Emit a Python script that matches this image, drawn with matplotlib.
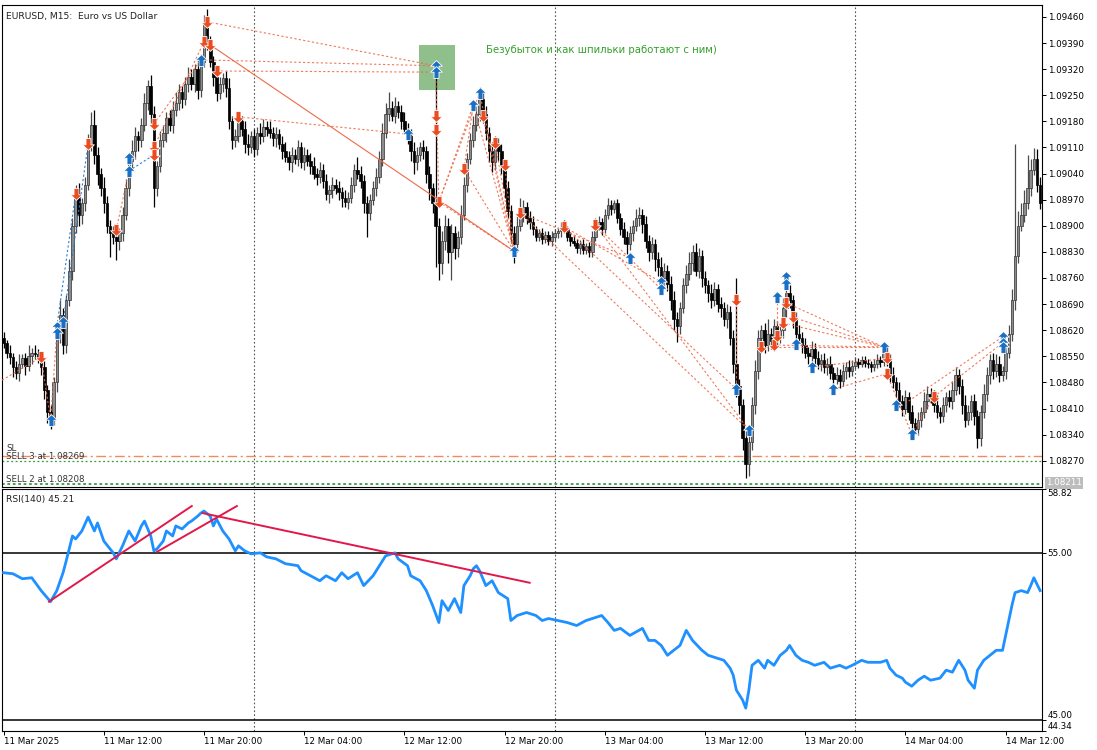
import numpy as np
import matplotlib
matplotlib.use("Agg")
import matplotlib.pyplot as plt
from matplotlib.path import Path
from matplotlib.patches import Rectangle
import matplotlib.transforms as mtransforms

# ---------------- data ----------------
# EURUSD M15 closes, in points above 1.08000 (1 point = 0.00001)
first_open_pts = 600
close_pts = [
    585, 560, 548, 520, 505, 530, 545, 525, 550, 560, 555, 548,
    520, 460, 400, 385, 480, 615, 660, 580, 700, 780, 900, 985,
    930, 960, 1010, 1120, 1170, 1090, 1040, 1000, 960, 900, 880,
    870, 860, 880, 930, 1000, 1075, 1100, 1140, 1130, 1170,
    1230, 1275, 1200, 1000, 1060, 1130, 1150, 1190, 1170, 1210,
    1230, 1260, 1240, 1280, 1300, 1280, 1320, 1265, 1340, 1440, 1390,
    1340, 1300, 1255, 1280, 1295, 1270, 1180, 1130, 1140, 1180, 1160,
    1120, 1110, 1140, 1105,
    1150, 1140, 1165, 1160, 1150, 1135, 1145, 1120,
    1100, 1085, 1070, 1090, 1080, 1110, 1070, 1090, 1075, 1060,
    1040, 1030, 1050, 1020,
    985, 995, 1010, 1000, 990, 975, 965, 975,
    1010, 1050, 1040, 1020, 960, 935, 970, 1000, 1030, 1080,
    1150, 1200, 1215, 1195, 1220, 1205, 1180, 1160, 1140,
    1100, 1070, 1090, 1110, 1100, 1040, 1000, 960, 900,
    800, 860, 900, 830, 880, 840, 870, 930, 1010,
    1080, 1130, 1170, 1200, 1240, 1200, 1150, 1100, 1070,
    1120, 1100, 1060, 1000, 940, 880, 850,
    900, 930, 950, 920, 910,
    890, 870, 880, 865, 875, 860, 870, 880,
    885, 895, 890, 870, 860,
    855, 840, 850, 835, 845, 830,
    870, 900, 910, 890, 930, 955, 945, 960, 920,
    890, 870, 850, 880, 900, 920, 930, 905,
    860, 830, 850, 810, 790, 760, 780, 745, 700, 650, 630,
    680, 740, 770, 800, 830, 780, 820, 760,
    740, 720, 700, 730, 690, 680, 650, 670,
    600, 530, 470, 420, 330, 260, 320, 420, 510, 600,
    620, 580, 610, 590, 630, 600, 620, 680, 720, 700, 650, 610,
    600, 580, 560, 550, 570,
    545, 530, 540, 520, 530, 505, 490, 500, 485, 510, 520,
    510, 525, 535, 530, 540, 532, 528, 520, 530, 540, 535,
    560, 540, 500, 480, 460, 430, 410, 440, 400, 370, 355, 380,
    400, 430, 450, 440, 420, 400,
    390, 420, 440, 430, 460, 500, 470,
    420, 380, 400, 430, 390, 330,
    400, 450, 500, 540, 510, 530, 500,
    510, 560, 610, 700, 820, 900, 930, 960, 1000,
    1050, 1080, 1010, 960,
]
wick_up = [
    15, 10, 20, 12, 18, 25, 10, 15, 30, 12, 20, 15, 10, 18, 12, 20, 15, 25, 40, 20,
    15, 30, 20, 25, 30, 15, 20, 25, 35, 40, 20, 15, 30, 20, 15, 20, 25, 15, 20, 25,
    20, 30, 25, 15, 20, 25, 17, 30, 20, 15, 25, 20, 15, 20, 25, 30, 20, 15, 20, 25,
    20, 15, 25, 20, 26, 40, 20, 15, 25, 20, 15, 20, 25, 15, 20, 20, 15, 20, 25, 15,
    20, 15, 25, 20, 15, 20, 15, 20, 15, 20, 25, 15, 20, 15, 20, 15, 20, 15, 20, 25,
    15, 20, 15, 20, 15, 20, 15, 20, 15, 20, 15, 20, 15, 35, 20, 15, 20, 15, 20, 25,
    20, 25, 30, 44, 20, 25, 15, 20, 25, 15, 20, 25, 20, 15, 20, 15, 20, 15, 377, 20,
    25, 30, 20, 25, 20, 15, 25, 20, 15, 20, 25, 20, 32, 25, 20, 15, 25, 20, 15, 20,
    15, 20, 15, 20, 25, 45, 20, 15, 20, 15, 10, 12, 15, 10, 12, 15, 10, 12, 15, 20,
    10, 12, 15, 10, 12, 15, 10, 12, 15, 20, 15, 12, 15, 20, 15, 9, 12, 15, 20, 15,
    20, 15, 25, 20, 15, 20, 15, 20, 15, 20, 25, 20, 15, 20, 25, 20, 15, 20, 25, 30,
    18, 25, 20, 15, 20, 15, 25, 20, 15, 20, 15, 20, 15, 20, 230, 20, 15, 20, 25, 20,
    30, 20, 15, 20, 40, 15, 20, 15, 20, 25, 48, 20, 15, 20, 25, 15, 20, 15, 20, 15,
    20, 15, 20, 15, 20, 15, 20, 15, 20, 15, 20, 15, 12, 10, 12, 10, 12, 10, 12, 15,
    10, 15, 20, 15, 20, 15, 20, 15, 20, 15, 20, 15, 20, 15, 25, 20, 15, 20, 25, 15,
    20, 15, 20, 25, 20, 15, 20, 25, 20, 15, 20, 15, 20, 25, 20, 15, 20, 25, 20, 15,
    20, 25, 30, 300, 40, 30, 35, 90, 30, 29, 25, 20,
]
wick_dn = [
    12, 15, 20, 25, 15, 20, 12, 25, 15, 20, 12, 15, 20, 25, 30, 30, 20, 25, 30, 25,
    20, 15, 25, 20, 30, 25, 20, 15, 20, 25, 30, 20, 25, 20, 64, 20, 52, 25, 20, 15,
    20, 25, 20, 30, 20, 15, 20, 25, 50, 20, 15, 20, 25, 15, 20, 15, 20, 25, 15, 20,
    15, 20, 25, 20, 15, 20, 15, 25, 20, 15, 20, 25, 20, 25, 20, 15, 20, 25, 20, 15,
    20, 15, 20, 15, 20, 15, 20, 25, 15, 20, 15, 20, 25, 15, 20, 15, 20, 15, 20, 15,
    20, 15, 20, 15, 25, 20, 15, 20, 25, 15, 20, 15, 20, 15, 20, 25, 65, 20, 15, 20,
    15, 20, 15, 20, 15, 20, 15, 20, 15, 20, 25, 30, 20, 15, 20, 25, 30, 25, 110, 45,
    30, 25, 30, 75, 30, 25, 20, 15, 20, 15, 20, 15, 20, 25, 20, 30, 25, 20, 25, 20,
    25, 20, 25, 50, 20, 15, 20, 15, 20, 15, 10, 12, 15, 10, 12, 15, 10, 12, 15, 10,
    12, 15, 10, 12, 15, 10, 12, 14, 15, 10, 12, 15, 10, 12, 15, 10, 12, 15, 20, 25,
    15, 20, 15, 20, 25, 20, 25, 20, 30, 25, 20, 25, 20, 25, 30, 42, 20, 15, 20, 15,
    20, 15, 20, 25, 20, 25, 20, 15, 20, 25, 20, 25, 20, 25, 30, 25, 30, 36, 30, 20,
    25, 20, 25, 20, 15, 20, 25, 20, 15, 20, 25, 20, 25, 20, 15, 20, 15, 20, 15, 20,
    15, 20, 15, 20, 15, 38, 15, 20, 15, 20, 15, 12, 10, 12, 10, 12, 10, 12, 10, 12,
    15, 12, 15, 20, 15, 20, 15, 20, 15, 20, 15, 13, 15, 20, 15, 20, 15, 20, 15, 20,
    15, 20, 15, 20, 15, 20, 25, 20, 15, 20, 25, 26, 20, 15, 20, 25, 20, 15, 20, 15,
    20, 15, 20, 25, 20, 15, 20, 15, 20, 15, 20, 15,
]

# trade arrows: (bar, price points)
buy_arrows = [(15, 380), (17, 629), (17, 613), (19, 642), (40, 1082), (40, 1047),
              (63, 1345), (129, 1146), (138, 1329), (138, 1312), (150, 1224),
              (152, 1256), (163, 832), (200, 814), (210, 749), (210, 730),
              (234, 462), (238, 352), (247, 709), (250, 763), (250, 744),
              (253, 583), (258, 521), (265, 462), (281, 575), (285, 419),
              (290, 342), (319, 602), (319, 586), (319, 575)]
sell_arrows = [(12, 548), (23, 985), (27, 1119), (36, 889), (48, 1173), (48, 1111),
               (48, 1090), (65, 1447), (64, 1393), (66, 1385), (68, 1315),
               (75, 1192), (138, 1194), (138, 1157), (139, 964), (147, 1052),
               (153, 1194), (157, 1122), (160, 1063), (165, 934), (179, 897),
               (189, 902), (234, 701), (242, 575), (246, 580), (247, 604),
               (249, 639), (250, 693), (252, 655), (282, 545), (282, 503),
               (297, 441)]
# trade connection lines: (bar0, pts0, bar1, pts1)
red_links = [(-0.5, 486, 12, 548), (12, 548, 15, 380), (15, 380, 17, 613),
             (36, 889, 40, 1047), (48, 1173, 63, 1345), (48, 1111, 64, 1393),
             (65, 1447, 138, 1329), (63, 1345, 138, 1329), (68, 1315, 138, 1312),
             (75, 1192, 129, 1146), (138, 1312, 139, 964), (139, 964, 150, 1224),
             (139, 964, 152, 1256), (147, 1052, 150, 1224), (150, 1224, 163, 832),
             (152, 1256, 163, 832), (153, 1194, 163, 832), (157, 1122, 163, 832),
             (160, 1063, 163, 832), (139, 964, 163, 832), (147, 1052, 163, 832),
             (165, 934, 200, 814), (179, 897, 210, 749), (189, 902, 210, 730),
             (179, 897, 234, 462), (165, 934, 238, 352), (189, 902, 238, 352),
             (234, 701, 234, 462), (242, 575, 281, 575), (246, 580, 281, 575),
             (249, 639, 281, 575), (252, 655, 281, 575), (250, 693, 281, 575),
             (247, 604, 247, 709), (250, 693, 250, 763), (258, 521, 282, 545),
             (265, 462, 282, 503), (282, 503, 290, 342), (290, 342, 297, 441),
             (289, 430, 319, 602), (297, 441, 319, 586)]
solid_link = (66, 1385, 163, 832)
blue_links = [(17, 629, 23, 985), (19, 642, 27, 1119), (40, 1047, 48, 1090)]

# RSI(140)
rsi_bar = [0, 3, 6, 9, 12, 15, 17, 19, 20, 22, 23, 25, 27, 29, 30, 32, 35, 36, 38, 40,
           42, 44, 45, 47, 48, 49, 51, 52, 54, 55, 57, 59, 60, 62, 63, 64, 66, 67, 68, 70,
           72, 74, 75, 77, 79, 82, 84, 87, 90, 94, 95, 98, 101, 103, 106, 108, 110, 113,
           115, 118, 120, 122, 125, 126, 129, 130, 133, 135, 137, 139, 140, 142, 144, 146,
           147, 149, 150, 151, 152, 154, 156, 158, 161, 162, 164, 167, 170, 172, 174, 177,
           180, 183, 186, 188, 191, 193, 195, 197, 200, 204, 206, 208, 210, 212, 214, 216,
           218, 220, 223, 225, 228, 230, 232, 233, 234, 236, 237, 238, 239, 241, 243, 244,
           246, 248, 250, 251, 253, 255, 257, 259, 262, 264, 267, 269, 271, 274, 276, 280,
           282, 283, 285, 287, 288, 290, 292, 294, 296, 299, 301, 303, 305, 307, 308, 310,
           311, 313, 315, 317, 319, 320, 322, 323, 325, 327, 328, 329, 331]
rsi_val = [53.81, 53.75, 53.45, 53.51, 52.74, 52.08, 52.74, 53.81, 54.52, 56.01, 55.83,
           56.31, 57.14, 56.31, 56.79, 55.71, 55.00, 54.64, 55.42, 56.31, 55.71, 56.61,
           56.90, 56.01, 55.12, 55.24, 55.71, 56.31, 56.01, 56.61, 56.43, 56.79, 56.90,
           57.20, 57.38, 57.50, 57.20, 56.61, 57.02, 56.31, 55.83, 55.12, 55.42, 55.12,
           54.94, 55.00, 54.76, 54.64, 54.35, 54.23, 53.93, 53.63, 53.33, 53.63, 53.33,
           53.81, 53.45, 53.81, 53.04, 53.63, 54.23, 54.82, 55.00, 54.64, 54.23, 53.63,
           53.33, 52.74, 51.85, 50.83, 52.14, 51.55, 52.26, 51.43, 53.04, 53.63, 54.05,
           54.23, 53.93, 53.04, 53.33, 52.62, 52.26, 50.95, 51.25, 51.43, 51.25, 50.95,
           51.07, 50.95, 50.83, 50.65, 50.95, 51.07, 51.25, 50.83, 50.36, 50.48, 50.06,
           50.48, 49.76, 49.76, 49.46, 48.87, 49.17, 49.46, 50.36, 49.76, 49.17, 48.87,
           48.69, 48.57, 48.10, 47.68, 46.79, 46.19, 45.71, 46.79, 48.27, 48.57, 48.10,
           48.57, 48.27, 48.87, 49.17, 49.46, 48.87, 48.57, 48.45, 48.27, 48.45, 48.10,
           48.27, 48.10, 48.27, 48.57, 48.45, 48.45, 48.57, 48.10, 47.68, 47.50, 47.26,
           47.02, 47.38, 47.62, 47.38, 47.50, 47.98, 47.86, 48.57, 47.98, 47.38, 46.90,
           47.98, 48.57, 48.87, 49.17, 49.17, 50.06, 51.85, 52.62, 52.74, 52.62, 53.04,
           53.51, 52.74]
rsi_trend = [(14.5, 52.08, 60.1, 57.80), (49.0, 55.06, 74.5, 57.80), (63.5, 57.38, 168.0, 53.21)]

price_ticks = [1.08270, 1.08340, 1.08410, 1.08480, 1.08550, 1.08620, 1.08690, 1.08760,
               1.08830, 1.08900, 1.08970, 1.09040, 1.09110, 1.09180, 1.09250, 1.09320,
               1.09390, 1.09460]
time_tick_bars = [0, 32, 64, 96, 128, 160, 192, 224, 256, 288, 320]
time_tick_labels = ["11 Mar 2025", "11 Mar 12:00", "11 Mar 20:00", "12 Mar 04:00",
                    "12 Mar 12:00", "12 Mar 20:00", "13 Mar 04:00", "13 Mar 12:00",
                    "13 Mar 20:00", "14 Mar 04:00", "14 Mar 12:00"]
day_sep_bars = [80, 176, 272]
sl_price = 1.08283
sell3_price = 1.08269
sell2_price = 1.08208
last_label_price = 1.08211
note_box = (132.6, 1264, 11.5, 121)   # bar start, low pts, width in bars, height pts

assert len(close_pts) == len(wick_up) == len(wick_dn), (len(close_pts), len(wick_up), len(wick_dn))
assert len(rsi_bar) == len(rsi_val), (len(rsi_bar), len(rsi_val))

# ---------------- derived OHLC ----------------
P = lambda v: 1.08 + np.asarray(v, dtype=float) / 1e5
c = np.array(close_pts, float)
o = np.concatenate([[first_open_pts], c[:-1]])
h = np.maximum(o, c) + np.array(wick_up)
l = np.minimum(o, c) - np.array(wick_dn)
N = len(c)
x = np.arange(N)

plt.rcParams['font.family'] = ['DejaVu Sans']
W, H = 1097, 750
fig = plt.figure(figsize=(W / 100, H / 100), dpi=100)
fig.patch.set_facecolor('white')

def fx(px):
    return px / W

def fy(py):
    return 1 - py / H

axp = fig.add_axes([fx(2), fy(487), fx(1040), (487 - 5) / H])
axr = fig.add_axes([fx(2), fy(731), fx(1040), (731 - 489) / H])

xl = (-0.5, 331.6)
for ax in (axp, axr):
    ax.set_xlim(*xl)
    for s in ax.spines.values():
        s.set_color('black')
        s.set_linewidth(0.8)
    ax.yaxis.tick_right()
    ax.tick_params(axis='y', direction='out', length=3, width=0.7, labelsize=6.3, pad=1,
                   colors='black')
    for b in day_sep_bars:
        ax.axvline(b, color='#555555', lw=0.8, ls=(0, (1.5, 2)), zorder=1)

axp.set_ylim(1.081995, 1.09492)
axp.set_xticks([])
axp.set_yticks(price_ticks)
axp.set_yticklabels([f"{t:.5f}" for t in price_ticks])

# candles
bull = c >= o
bw = 0.8
axp.vlines(x[bull], P(l[bull]), P(h[bull]), color='#4a4a4a', lw=0.9, zorder=3)
axp.vlines(x[~bull], P(l[~bull]), P(h[~bull]), color='black', lw=0.9, zorder=3)
body_lo = P(np.minimum(o, c))
body_h = np.maximum(P(np.maximum(o, c)) - body_lo, 0.000015)
axp.bar(x[bull], body_h[bull], bottom=body_lo[bull], width=bw, color='#8c8c8c',
        edgecolor='#303030', linewidth=0.5, zorder=4)
axp.bar(x[~bull], body_h[~bull], bottom=body_lo[~bull], width=bw, color='black',
        edgecolor='black', linewidth=0.5, zorder=4)

# order lines
axp.axhline(sl_price, color='#f08a60', lw=1.0, ls=(0, (7, 2.5, 1.5, 2.5)), zorder=2)
axp.axhline(sell3_price, color='#3a9a3a', lw=0.9, ls=(0, (1.5, 2)), zorder=2)
axp.axhline(sell2_price, color='#3a9a3a', lw=1.3, ls=(0, (1.5, 1.5)), zorder=2)
tr = mtransforms.blended_transform_factory(axp.transAxes, axp.transData)
axp.text(0.004, 1.08304, "SL", transform=tr, fontsize=6.2, color='#333333', va='center', ha='left', zorder=6)
axp.text(0.004, 1.08280, "SELL 3 at 1.08269", transform=tr, fontsize=6.2, color='#333333', va='center', ha='left', zorder=6)
axp.text(0.004, 1.08219, "SELL 2 at 1.08208", transform=tr, fontsize=6.2, color='#333333', va='center', ha='left', zorder=6)
axp.text(1.004, last_label_price, f"{last_label_price:.5f}", transform=axp.get_yaxis_transform(),
         fontsize=6.3, color='white', va='center', ha='left',
         bbox=dict(boxstyle='square,pad=0.15', fc='#bdbdbd', ec='none'), zorder=7, clip_on=False)

# trade links
for (b0, p0, b1, p1) in red_links:
    axp.plot([b0, b1], P([p0, p1]), color='#ee6a48', lw=0.8, ls=(0, (2, 2)), alpha=0.9, zorder=5)
axp.plot([solid_link[0], solid_link[2]], P([solid_link[1], solid_link[3]]), color='#ee6a48',
         lw=0.8, zorder=5)
for (b0, p0, b1, p1) in blue_links:
    axp.plot([b0, b1], P([p0, p1]), color='#2f7fd0', lw=0.8, ls=(0, (2, 2)), zorder=5)

up_arrow = Path([(0, 1), (1, 0.05), (0.42, 0.05), (0.42, -1), (-0.42, -1), (-0.42, 0.05),
                 (-1, 0.05), (0, 1)], closed=True)
dn_arrow = Path([(0, -1), (1, -0.05), (0.42, -0.05), (0.42, 1), (-0.42, 1), (-0.42, -0.05),
                 (-1, -0.05), (0, -1)], closed=True)
bx = [a[0] for a in buy_arrows]
by = P([a[1] for a in buy_arrows])
sx = [a[0] for a in sell_arrows]
sy = P([a[1] for a in sell_arrows])
axp.plot(bx, by, ls='none', marker=up_arrow, ms=8.5, mfc='#1a6fc4', mec='white', mew=0.6, zorder=8)
axp.plot(sx, sy, ls='none', marker=dn_arrow, ms=8.5, mfc='#ea4b1f', mec='white', mew=0.6, zorder=8)

# green note box and text
axp.add_patch(Rectangle((note_box[0], P(note_box[1])), note_box[2],
                        P(note_box[1] + note_box[3]) - P(note_box[1]),
                        facecolor='#8fbf8a', edgecolor='none', zorder=2))
axp.text(154.2, P(1371), "Безубыток и как шпильки работают с ним)", fontsize=7.3,
         color='#34a02c', va='center', ha='left', zorder=6)
axp.text(0.004, 0.977, "EURUSD, M15:  Euro vs US Dollar", transform=axp.transAxes,
         fontsize=6.6, color='#222222', va='center', ha='left', zorder=9)

# ---------------- RSI pane ----------------
axr.set_ylim(44.34, 58.82)
axr.plot(rsi_bar, rsi_val, color='#1e90ff', lw=2.0, zorder=4, solid_joinstyle='round')
axr.axhline(55.0, color='black', lw=1.1, zorder=3)
axr.axhline(45.0, color='black', lw=1.1, zorder=3)
for (b0, v0, b1, v1) in rsi_trend:
    axr.plot([b0, b1], [v0, v1], color='#e2174a', lw=1.4, zorder=5)
axr.text(0.004, 0.955, "RSI(140) 45.21", transform=axr.transAxes, fontsize=6.6,
         color='#222222', va='center', ha='left')
rticks = [44.34, 45.0, 55.0, 58.82]
axr.set_yticks(rticks)
axr.set_yticklabels([f"{t:.2f}" for t in rticks])
for lab in axr.get_yticklabels():
    if lab.get_text() == "58.82":
        lab.set_verticalalignment('top')
    if lab.get_text() in ("44.34", "45.00"):
        lab.set_verticalalignment('bottom')
axr.set_xticks(time_tick_bars)
axr.set_xticklabels(time_tick_labels, ha='left')
axr.tick_params(axis='x', direction='out', length=3, width=0.7, labelsize=6.3, pad=1.5)

fig.savefig("out.png", dpi=100, facecolor='white')
